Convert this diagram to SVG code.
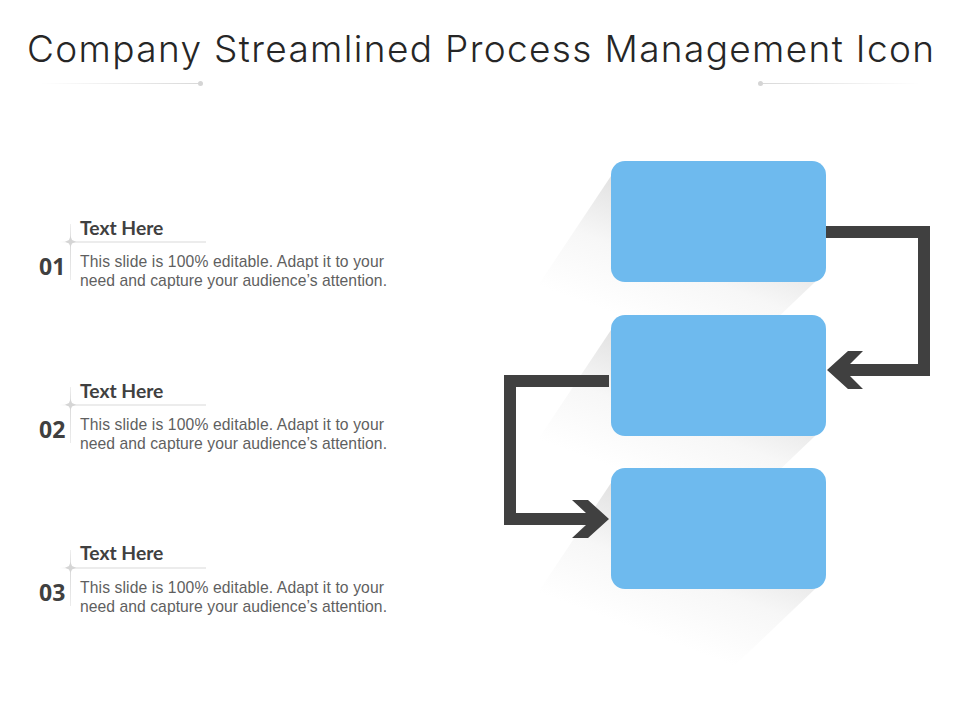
<svg xmlns="http://www.w3.org/2000/svg" width="960" height="720" viewBox="0 0 960 720">
<style>
.title{font-family:"Inter","Lato","Liberation Sans",sans-serif;font-weight:300;font-size:37px;fill:#262626}
.head{font-family:"Lato","Liberation Sans",sans-serif;font-weight:700;font-size:19.300px;fill:#404040}
.body{font-family:"Liberation Sans",Arial,sans-serif;font-size:15.700px;fill:#5f5f5f}
.num{font-family:"Open Sans","Liberation Sans",sans-serif;font-weight:700;font-size:23px;fill:#404040}
.box{fill:#6ebaee}
.arrow{fill:#404040}
</style>
<defs>
<linearGradient id="sh" gradientUnits="userSpaceOnUse" x1="611" y1="176" x2="566" y2="296"><stop offset="0" stop-color="#e2e2e2"/><stop offset="0.5" stop-color="#f7f7f7"/><stop offset="1" stop-color="#ffffff"/></linearGradient>
<path id="shadow" d="M611 176 L535 290 L730 363 L815 282 L815 200 Z" fill="url(#sh)"/>
<linearGradient id="lineL" x1="0" x2="1" y1="0" y2="0"><stop offset="0" stop-color="#d9d9d9" stop-opacity="0"/><stop offset="1" stop-color="#d9d9d9"/></linearGradient>
<linearGradient id="lineR" x1="0" x2="1" y1="0" y2="0"><stop offset="0" stop-color="#d9d9d9"/><stop offset="1" stop-color="#d9d9d9" stop-opacity="0"/></linearGradient>
<linearGradient id="rule" x1="0" x2="1" y1="0" y2="0"><stop offset="0" stop-color="#d9d9d9" stop-opacity="0"/><stop offset="0.1" stop-color="#d9d9d9"/><stop offset="1" stop-color="#d9d9d9"/></linearGradient>
<linearGradient id="vrule" x1="0" x2="0" y1="0" y2="1"><stop offset="0" stop-color="#d9d9d9" stop-opacity="0.4"/><stop offset="0.3" stop-color="#d9d9d9"/><stop offset="1" stop-color="#d9d9d9" stop-opacity="0.5"/></linearGradient>
<g id="item-deco">
<rect x="60" y="241.500" width="146" height="1" fill="url(#rule)"/>
<rect x="70" y="224" width="1" height="56" fill="url(#vrule)"/>
<path d="M70.500 236 L72 240 L76 241.800 L72 243.500 L70.500 247 L69 243.500 L65 241.800 L69 240 Z" fill="#d5d5d5"/>
</g>
</defs>
<g id="title">
<text class="title" x="27" y="62" textLength="907" lengthAdjust="spacing">Company Streamlined Process Management Icon</text>
<rect x="40" y="83" width="160" height="1" fill="url(#lineL)"/>
<circle cx="200.500" cy="83.500" r="2.500" fill="#d5d5d5"/>
<rect x="761" y="83" width="160" height="1" fill="url(#lineR)"/>
<circle cx="760.500" cy="83.500" r="2.500" fill="#d5d5d5"/>
</g>
<g id="shadows">
<use href="#shadow"/>
<use href="#shadow" y="154"/>
<use href="#shadow" y="307"/>
</g>
<g id="node-1"><rect class="box" x="611" y="161" width="215" height="121" rx="14"/></g>
<g id="node-2"><rect class="box" x="611" y="315" width="215" height="121" rx="14"/></g>
<g id="node-3"><rect class="box" x="611" y="468" width="215" height="121" rx="14"/></g>
<g id="connectors">
<path class="arrow" d="M826 226 H930 V376 H850 L863 389 H848 L827 370 L848 351 H863 L850 364 H918 V238 H826 Z"/>
<path class="arrow" d="M609 375 H504 V525 H586 L572 538 H588 L609 519 L588 500 H572 L586 513 H516 V387 H609 Z"/>
</g>
<g id="item-1">
<use href="#item-deco"/>
<text class="head" x="80" y="235">Text Here</text>
<text class="num" x="39" y="274.500">01</text>
<text class="body" x="80" y="266.500" textLength="304">This slide is 100% editable. Adapt it to your</text>
<text class="body" x="80" y="285.500" textLength="307">need and capture your audience’s attention.</text>
</g>
<g id="item-2">
<use href="#item-deco" y="163"/>
<text class="head" x="80" y="398">Text Here</text>
<text class="num" x="39" y="437.500">02</text>
<text class="body" x="80" y="429.500" textLength="304">This slide is 100% editable. Adapt it to your</text>
<text class="body" x="80" y="448.500" textLength="307">need and capture your audience’s attention.</text>
</g>
<g id="item-3">
<use href="#item-deco" y="326"/>
<text class="head" x="80" y="560">Text Here</text>
<text class="num" x="39" y="600.500">03</text>
<text class="body" x="80" y="592.500" textLength="304">This slide is 100% editable. Adapt it to your</text>
<text class="body" x="80" y="611.500" textLength="307">need and capture your audience’s attention.</text>
</g>
</svg>
